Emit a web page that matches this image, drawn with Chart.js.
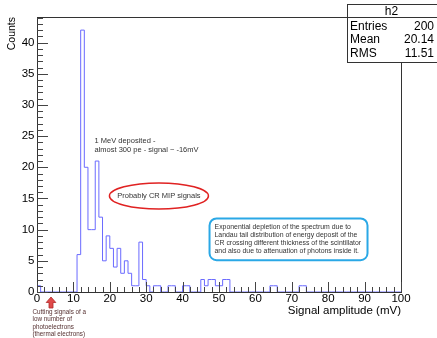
<!DOCTYPE html>
<html>
<head>
<meta charset="utf-8">
<script src="https://cdn.jsdelivr.net/npm/chart.js@4.4.1/dist/chart.umd.min.js"></script>
<style>
  html, body { margin: 0; padding: 0; background: #fff; }
  #wrap { width: 437px; height: 338px; }
</style>
</head>
<body>
<div id="wrap"><canvas id="h2" width="437" height="338"></canvas></div>
<script>
// h2 : 100 bins of 1 mV, 0 - 100 mV
var xMin = 0, xMax = 100, binWidth = 1;
var counts = [
  1, 0, 0, 0, 0, 0, 0, 0, 0, 0,
  0, 6, 42, 20, 10, 10, 21, 12, 5, 9,
  7, 4, 7, 3, 5, 3, 1, 1, 8, 2,
  1, 0, 1, 1, 0, 0, 1, 1, 0, 0,
  1, 1, 0, 0, 0, 2, 1, 2, 2, 1,
  1, 2, 2, 0, 0, 0, 0, 0, 0, 0,
  0, 0, 0, 0, 1, 1, 0, 0, 0, 0,
  0, 0, 1, 1, 0, 0, 0, 0, 0, 0,
  0, 0, 0, 0, 0, 0, 0, 0, 0, 0,
  0, 0, 0, 0, 0, 0, 0, 0, 0, 0
];
var xTicks = [0, 10, 20, 30, 40, 50, 60, 70, 80, 90, 100];
var yTicks = [0, 5, 10, 15, 20, 25, 30, 35, 40];
var yMax = 44.1;
var statNames = ["Entries", "Mean", "RMS"];
var statValues = ["200", "20.14", "11.51"];

var FONT = "'Liberation Sans', Arial, Helvetica, sans-serif";

// outline points: left edge of every bin, plus the right edge of the last one
var steps = counts.map(function (c, i) { return { x: xMin + i * binWidth, y: c }; });
steps.push({ x: xMax, y: counts[counts.length - 1] });

var rootDecor = {
  id: 'rootDecor',
  afterDraw: function (chart) {
    var ctx = chart.ctx, a = chart.chartArea;
    var xs = chart.scales.x, ys = chart.scales.y;
    ctx.save();

    // frame
    ctx.strokeStyle = '#333';
    ctx.lineWidth = 1;
    ctx.strokeRect(a.left + 0.5, a.top + 0.5, a.right - a.left, a.bottom - a.top);

    // ticks inside the frame
    ctx.strokeStyle = '#444';
    ctx.beginPath();
    for (var v = 0; v <= yMax; v += 1) {
      var py = Math.round(ys.getPixelForValue(v)) + 0.5;
      var len = yTicks.indexOf(v) >= 0 ? 11 : 6;
      ctx.moveTo(a.left, py); ctx.lineTo(a.left + len, py);
    }
    for (var u = xMin; u <= xMax; u += 2) {
      var px = Math.round(xs.getPixelForValue(u)) + 0.5;
      var l2 = xTicks.indexOf(u) >= 0 ? 10 : 5;
      ctx.moveTo(px, a.bottom); ctx.lineTo(px, a.bottom - l2);
    }
    ctx.stroke();

    // stats box
    ctx.fillStyle = '#fff';
    ctx.fillRect(347, 4, 95, 58);
    ctx.strokeStyle = '#333';
    ctx.strokeRect(347.5, 4.5, 95, 58);
    ctx.beginPath(); ctx.moveTo(347, 17.5); ctx.lineTo(437, 17.5); ctx.stroke();
    ctx.fillStyle = '#000';
    ctx.font = '12px ' + FONT;
    ctx.textBaseline = 'middle';
    ctx.textAlign = 'center';
    ctx.fillText('h2', 391.5, 11.5);
    statNames.forEach(function (n, i) {
      var ty = 26.5 + i * 13.5;
      ctx.textAlign = 'left'; ctx.fillText(n, 350, ty);
      ctx.textAlign = 'right'; ctx.fillText(statValues[i], 434, ty);
    });

    // annotations
    ctx.fillStyle = '#333';
    ctx.font = '7.5px ' + FONT;
    ctx.textAlign = 'left';
    ctx.fillText('1 MeV deposited -', xs.getPixelForValue(15.8), ys.getPixelForValue(24.3));
    ctx.fillText('almost 300 pe - signal ~ -16mV', xs.getPixelForValue(15.8), ys.getPixelForValue(22.8));

    var ex = xs.getPixelForValue(33.5), ey = ys.getPixelForValue(15.4);
    ctx.strokeStyle = '#e02222';
    ctx.lineWidth = 1.5;
    ctx.beginPath(); ctx.ellipse(ex, ey, 49.5, 13, 0, 0, Math.PI * 2); ctx.stroke();
    ctx.textAlign = 'center';
    ctx.fillText('Probably CR MIP signals', ex, ey);

    var bx1 = xs.getPixelForValue(47.4), bx2 = xs.getPixelForValue(90.8);
    var by1 = ys.getPixelForValue(11.8), by2 = ys.getPixelForValue(5.1);
    ctx.strokeStyle = '#2aa8e6';
    ctx.lineWidth = 2;
    ctx.beginPath(); ctx.roundRect(bx1, by1, bx2 - bx1, by2 - by1, 7); ctx.stroke();
    ctx.font = '6.9px ' + FONT;
    ctx.textAlign = 'left';
    var boxLines = [
      'Exponential depletion of the spectrum due to',
      'Landau tail distribution of energy deposit of the',
      'CR crossing different thickness of the scintillator',
      'and also due to attenuation of photons inside it.'
    ];
    boxLines.forEach(function (t, i) {
      ctx.fillText(t, bx1 + 5, by1 + 8.4 + i * 8);
    });

    // red arrow under the axis
    var ax = xs.getPixelForValue(3.85), b = a.bottom;
    ctx.fillStyle = '#e04a4a';
    ctx.strokeStyle = '#b02a2a';
    ctx.lineWidth = 0.8;
    ctx.beginPath();
    ctx.moveTo(ax, b + 5);
    ctx.lineTo(ax + 4.8, b + 10.5);
    ctx.lineTo(ax + 2, b + 10.5);
    ctx.lineTo(ax + 2, b + 16);
    ctx.lineTo(ax - 2, b + 16);
    ctx.lineTo(ax - 2, b + 10.5);
    ctx.lineTo(ax - 4.8, b + 10.5);
    ctx.closePath();
    ctx.fill(); ctx.stroke();

    ctx.fillStyle = '#553030';
    ctx.font = '6.3px ' + FONT;
    ['Cutting signals of a', 'low number of', 'photoelectrons', '(thermal electrons)'].forEach(function (t, i) {
      ctx.fillText(t, a.left - 4.5, b + 20 + i * 7.4);
    });

    ctx.restore();
  }
};

new Chart(document.getElementById('h2'), {
  type: 'line',
  data: {
    datasets: [{
      label: 'h2',
      data: steps,
      stepped: 'before',
      borderColor: '#6a6aff',
      borderWidth: 1,
      pointRadius: 0,
      fill: false
    }]
  },
  options: {
    responsive: false,
    animation: false,
    layout: { padding: { left: 0, right: 36, top: 17, bottom: 0 } },
    plugins: { legend: { display: false }, tooltip: { enabled: false } },
    scales: {
      x: {
        type: 'linear',
        min: xMin,
        max: xMax,
        afterBuildTicks: function (s) { s.ticks = xTicks.map(function (v) { return { value: v }; }); },
        afterFit: function (s) { s.height = 46; },
        grid: { display: false, drawTicks: false, tickLength: 0 },
        border: { display: false },
        ticks: { color: '#000', font: { family: FONT, size: 11.5 }, padding: 0, maxRotation: 0, autoSkip: false },
        title: {
          display: true, text: 'Signal amplitude (mV)', align: 'end', color: '#000',
          font: { family: FONT, size: 11.5 }, padding: { top: 0, bottom: 20 }
        }
      },
      y: {
        min: 0,
        max: yMax,
        afterBuildTicks: function (s) { s.ticks = yTicks.map(function (v) { return { value: v }; }); },
        afterFit: function (s) { s.width = 37; },
        grid: { display: false, drawTicks: false, tickLength: 0 },
        border: { display: false },
        ticks: { color: '#000', font: { family: FONT, size: 11.5 }, padding: 2.5 },
        title: {
          display: true, text: 'Counts', align: 'end', color: '#000',
          font: { family: FONT, size: 10.5 }, padding: { top: 5.4, bottom: 0 }
        }
      }
    }
  },
  plugins: [rootDecor]
});
</script>
</body>
</html>
